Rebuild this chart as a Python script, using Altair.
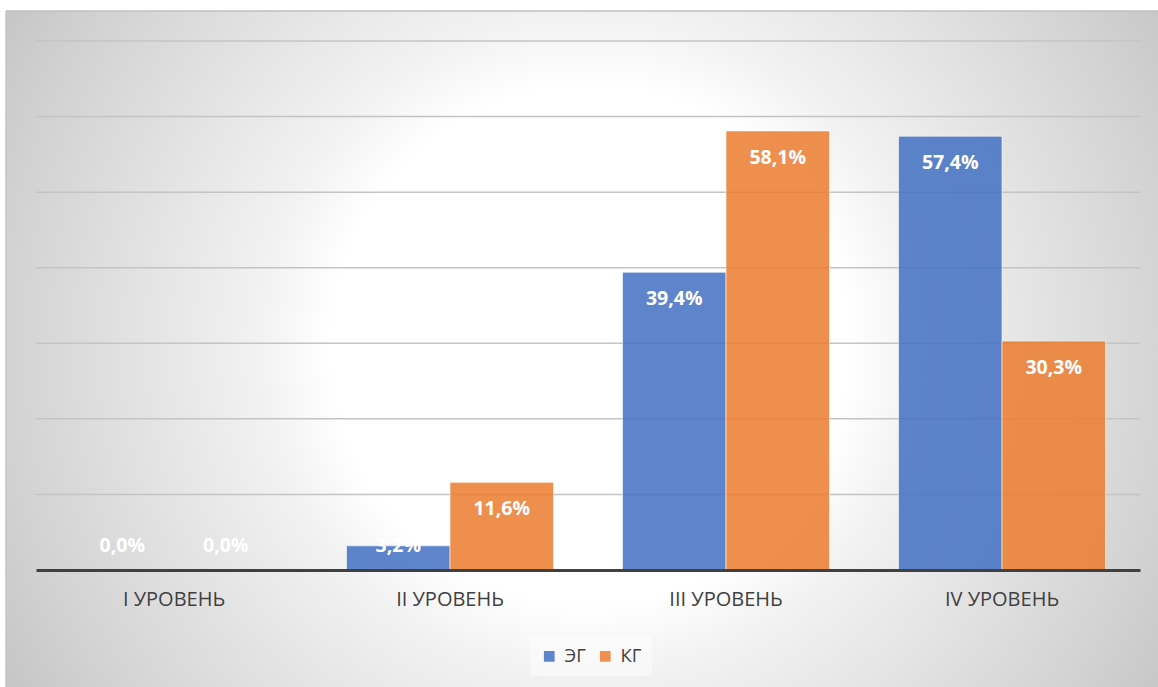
import altair as alt
import pandas as pd

# Categories, groups and percentages
levels = ["I УРОВЕНЬ", "II УРОВЕНЬ", "III УРОВЕНЬ", "IV УРОВЕНЬ"]
groups = ["ЭГ", "КГ"]
eg_values = [0.0, 3.2, 39.4, 57.4]
kg_values = [0.0, 11.6, 58.1, 30.3]
grid_values = [10, 20, 30, 40, 50, 60, 70]
colors = ["#4472C4", "#ED7D31"]

rows = []
for i, lvl in enumerate(levels):
    rows.append({"level": lvl, "group": groups[0], "value": eg_values[i]})
    rows.append({"level": lvl, "group": groups[1], "value": kg_values[i]})
df = pd.DataFrame(rows)
grid_df = pd.DataFrame({"tick": grid_values})
one = pd.DataFrame({"k": [0]})

W, H = 1104, 529
FONT = "Open Sans"

y_scale = alt.Scale(domain=[0, 70], nice=False, zero=True)
x_enc = alt.X(
    "level:N",
    sort=levels,
    scale=alt.Scale(paddingInner=0.25, paddingOuter=0.125),
    axis=alt.Axis(
        title=None, labelAngle=0, ticks=False, domainColor="#404040",
        domainWidth=3, labelColor="#404040", labelFont=FONT,
        labelFontSize=20, labelPadding=19, zindex=1,
    ),
)
off_enc = alt.XOffset("group:N", sort=groups, scale=alt.Scale(paddingInner=0, paddingOuter=0))

# soft radial backdrop behind the chart frame
backdrop = alt.Chart(one).mark_rect(
    fill={
        "gradient": "radial",
        "x1": 0.5, "y1": 0.5, "r1": 0,
        "x2": 0.5, "y2": 0.5, "r2": 0.5,
        "stops": [
            {"offset": 0.0, "color": "#ffffff"},
            {"offset": 0.37, "color": "#ffffff"},
            {"offset": 0.47, "color": "#f2f2f2"},
            {"offset": 0.61, "color": "#e6e6e6"},
            {"offset": 0.84, "color": "#d2d2d2"},
            {"offset": 1.0, "color": "#c2c2c2"},
        ],
    }
).encode(x=alt.value(-146), x2=alt.value(1254), y=alt.value(-396), y2=alt.value(1004))

cover_top = alt.Chart(one).mark_rect(color="white").encode(
    x=alt.value(-40), x2=alt.value(1130), y=alt.value(-45), y2=alt.value(-30)
)
cover_left = alt.Chart(one).mark_rect(color="white").encode(
    x=alt.value(-40), x2=alt.value(-30), y=alt.value(-45), y2=alt.value(650)
)
border_top = alt.Chart(one).mark_rule(color="#bfbfbf", strokeWidth=1.5).encode(
    x=alt.value(-30), x2=alt.value(1130), y=alt.value(-30)
)
border_left = alt.Chart(one).mark_rule(color="#c4c4c4", strokeWidth=1.5).encode(
    x=alt.value(-30), y=alt.value(-30), y2=alt.value(650)
)

gridlines = alt.Chart(grid_df).mark_rule(color="#c4c4c4", strokeWidth=1.5).encode(
    y=alt.Y("tick:Q", scale=y_scale, axis=None)
)

bars = alt.Chart(df).mark_bar(
    opacity=0.86, stroke="white", strokeWidth=1, strokeOpacity=0.6
).encode(
    x=x_enc,
    xOffset=off_enc,
    y=alt.Y("value:Q", scale=y_scale, axis=None),
    color=alt.Color(
        "group:N",
        sort=groups,
        scale=alt.Scale(domain=groups, range=colors),
        legend=alt.Legend(
            orient="none", legendX=494, legendY=596, direction="horizontal",
            title=None, symbolType="square", symbolSize=115, symbolStrokeWidth=0,
            symbolOpacity=0.86, labelFont=FONT, labelFontSize=18.5,
            labelColor="#404040", columnPadding=10, labelOffset=6,
            fillColor="rgba(255,255,255,0.45)", padding=10,
        ),
    ),
)

labels = alt.Chart(df).transform_calculate(
    label="replace(format(datum.value, '.1f'), '.', ',') + '%'",
    pos="max(datum.value - 3.57, 3.18)",
).mark_text(
    color="white", font=FONT, fontSize=19.5, fontWeight="bold", baseline="middle"
).encode(
    x=x_enc,
    xOffset=off_enc,
    y=alt.Y("pos:Q", scale=y_scale, axis=None),
    text="label:N",
)

chart = alt.layer(
    backdrop, cover_top, cover_left, border_top, border_left, gridlines, bars, labels
).properties(
    width=W,
    height=H,
    autosize=alt.AutoSizeParams(type="none"),
    padding={"left": 36, "top": 41, "right": 18, "bottom": 117},
).configure_view(stroke=None).configure(background="white")

chart.save("out.html", embed_options={"renderer": "svg", "actions": False})
